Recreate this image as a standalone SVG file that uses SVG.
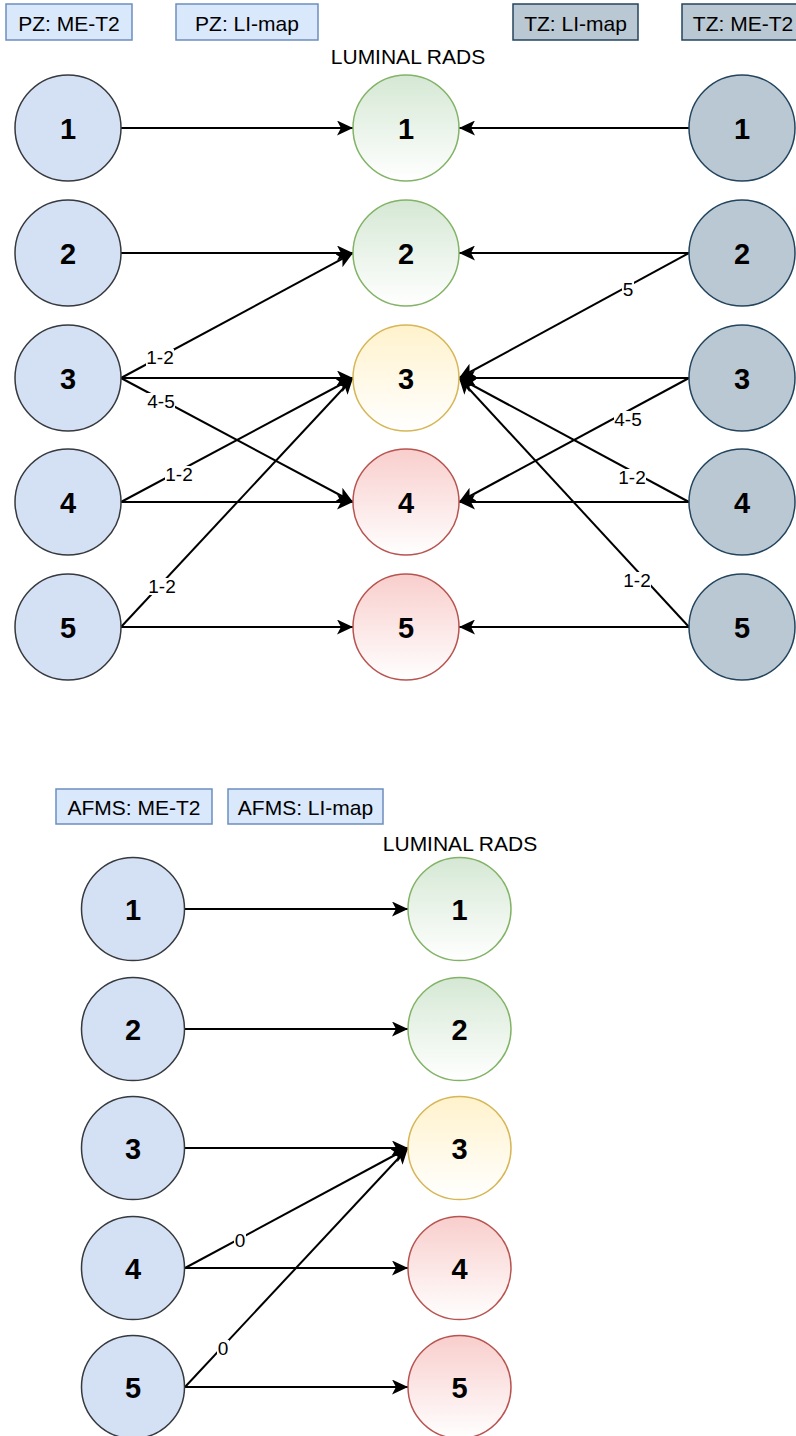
<svg xmlns="http://www.w3.org/2000/svg" width="796" height="1436" viewBox="0 0 796 1436">
  <style>
    .lbl { font-family: "Liberation Sans", Arial, sans-serif; font-size: 21px; fill: #000; text-anchor: middle; }
    .num { font-family: "Liberation Sans", Arial, sans-serif; font-size: 29px; font-weight: bold; fill: #000; text-anchor: middle; }
    .elbl { font-family: "Liberation Sans", Arial, sans-serif; font-size: 19px; fill: #000; text-anchor: middle; }
    .box-pz { fill: #dae8fc; stroke: #6c8ebf; stroke-width: 1.5; }
    .box-tz { fill: #bac8d3; stroke: #23445d; stroke-width: 1.5; }
    .c-src { fill: #d4e1f5; stroke: #36393d; stroke-width: 1.5; }
    .c-tz { fill: #bac8d3; stroke: #23445d; stroke-width: 1.5; }
    .c-g { fill: url(#gGreen); stroke: #82b366; stroke-width: 1.5; }
    .c-y { fill: url(#gYellow); stroke: #d6b656; stroke-width: 1.5; }
    .c-r { fill: url(#gRed); stroke: #b85450; stroke-width: 1.5; }
    .edge { stroke: #000; stroke-width: 2; fill: none; marker-end: url(#arrow); }
    .lbg { fill: #fff; }
  </style>
  <defs>
    <linearGradient id="gGreen" x1="0" y1="0" x2="0" y2="1">
      <stop offset="0" stop-color="#d5e8d4"/>
      <stop offset="1" stop-color="#ffffff"/>
    </linearGradient>
    <linearGradient id="gYellow" x1="0" y1="0" x2="0" y2="1">
      <stop offset="0" stop-color="#fff2cc"/>
      <stop offset="1" stop-color="#ffffff"/>
    </linearGradient>
    <linearGradient id="gRed" x1="0" y1="0" x2="0" y2="1">
      <stop offset="0" stop-color="#f8cecc"/>
      <stop offset="1" stop-color="#ffffff"/>
    </linearGradient>
    <marker id="arrow" markerUnits="userSpaceOnUse" markerWidth="16" markerHeight="15" refX="16" refY="7.5" orient="auto">
      <path d="M0,0 L16,7.5 L0,15 L4,7.5 Z" fill="#000"/>
    </marker>
  </defs>

  <rect width="796" height="1436" fill="#ffffff"/>

  <!-- ===== Upper panel: PZ / TZ ===== -->
  <g id="hdr-pz-met2"><rect class="box-pz" x="6" y="4" width="126" height="36"/><text class="lbl" x="69" y="31">PZ: ME-T2</text></g>
  <g id="hdr-pz-limap"><rect class="box-pz" x="176" y="4" width="142" height="36"/><text class="lbl" x="247" y="31">PZ: LI-map</text></g>
  <g id="hdr-tz-limap"><rect class="box-tz" x="513" y="4" width="125" height="36"/><text class="lbl" x="575.5" y="31">TZ: LI-map</text></g>
  <g id="hdr-tz-met2"><rect class="box-tz" x="682" y="4" width="126" height="36"/><text class="lbl" x="743" y="31">TZ: ME-T2</text></g>
  <g id="hdr-luminal-top"><text class="lbl" x="408" y="64">LUMINAL RADS</text></g>

  <!-- connectors, upper panel -->
  <g id="edges-top">
    <line class="edge" x1="121" y1="128" x2="353" y2="128"/>
    <line class="edge" x1="121" y1="253" x2="353" y2="253"/>
    <line class="edge" x1="121" y1="378" x2="353" y2="253"/>
    <line class="edge" x1="121" y1="378" x2="353" y2="378"/>
    <line class="edge" x1="121" y1="378" x2="353" y2="502"/>
    <line class="edge" x1="121" y1="502" x2="353" y2="378"/>
    <line class="edge" x1="121" y1="502" x2="353" y2="502"/>
    <line class="edge" x1="121" y1="627" x2="353" y2="378"/>
    <line class="edge" x1="121" y1="627" x2="353" y2="627"/>

    <line class="edge" x1="689" y1="128" x2="459" y2="128"/>
    <line class="edge" x1="689" y1="253" x2="459" y2="253"/>
    <line class="edge" x1="689" y1="253" x2="459" y2="378"/>
    <line class="edge" x1="689" y1="378" x2="459" y2="378"/>
    <line class="edge" x1="689" y1="378" x2="459" y2="502"/>
    <line class="edge" x1="689" y1="502" x2="459" y2="378"/>
    <line class="edge" x1="689" y1="502" x2="459" y2="502"/>
    <line class="edge" x1="689" y1="627" x2="459" y2="378"/>
    <line class="edge" x1="689" y1="627" x2="459" y2="627"/>

    <!-- edge labels -->
    <rect class="lbg" x="146" y="349" width="28" height="17"/><text class="elbl" x="160" y="364">1-2</text>
    <rect class="lbg" x="147" y="393" width="28" height="17"/><text class="elbl" x="161" y="408">4-5</text>
    <rect class="lbg" x="165" y="466" width="28" height="17"/><text class="elbl" x="179" y="481">1-2</text>
    <rect class="lbg" x="148" y="578" width="28" height="17"/><text class="elbl" x="162" y="593">1-2</text>
    <rect class="lbg" x="622" y="281" width="12" height="17"/><text class="elbl" x="628" y="296">5</text>
    <rect class="lbg" x="614" y="411" width="28" height="17"/><text class="elbl" x="628" y="426">4-5</text>
    <rect class="lbg" x="618" y="469" width="28" height="17"/><text class="elbl" x="632" y="484">1-2</text>
    <rect class="lbg" x="623" y="572" width="28" height="17"/><text class="elbl" x="637" y="587">1-2</text>
  </g>

  <!-- PZ ME-T2 column -->
  <g id="pz-1"><circle class="c-src" cx="68" cy="128" r="53"/><text class="num" x="68" y="139">1</text></g>
  <g id="pz-2"><circle class="c-src" cx="68" cy="253" r="53"/><text class="num" x="68" y="264">2</text></g>
  <g id="pz-3"><circle class="c-src" cx="68" cy="378" r="53"/><text class="num" x="68" y="389">3</text></g>
  <g id="pz-4"><circle class="c-src" cx="68" cy="502" r="53"/><text class="num" x="68" y="513">4</text></g>
  <g id="pz-5"><circle class="c-src" cx="68" cy="627" r="53"/><text class="num" x="68" y="638">5</text></g>

  <!-- Luminal RADS column (upper) -->
  <g id="lr-1"><circle class="c-g" cx="406" cy="128" r="53"/><text class="num" x="406" y="139">1</text></g>
  <g id="lr-2"><circle class="c-g" cx="406" cy="253" r="53"/><text class="num" x="406" y="264">2</text></g>
  <g id="lr-3"><circle class="c-y" cx="406" cy="378" r="53"/><text class="num" x="406" y="389">3</text></g>
  <g id="lr-4"><circle class="c-r" cx="406" cy="502" r="53"/><text class="num" x="406" y="513">4</text></g>
  <g id="lr-5"><circle class="c-r" cx="406" cy="627" r="53"/><text class="num" x="406" y="638">5</text></g>

  <!-- TZ ME-T2 column -->
  <g id="tz-1"><circle class="c-tz" cx="742" cy="128" r="53"/><text class="num" x="742" y="139">1</text></g>
  <g id="tz-2"><circle class="c-tz" cx="742" cy="253" r="53"/><text class="num" x="742" y="264">2</text></g>
  <g id="tz-3"><circle class="c-tz" cx="742" cy="378" r="53"/><text class="num" x="742" y="389">3</text></g>
  <g id="tz-4"><circle class="c-tz" cx="742" cy="502" r="53"/><text class="num" x="742" y="513">4</text></g>
  <g id="tz-5"><circle class="c-tz" cx="742" cy="627" r="53"/><text class="num" x="742" y="638">5</text></g>

  <!-- ===== Lower panel: AFMS ===== -->
  <g id="hdr-afms-met2"><rect class="box-pz" x="56" y="789" width="156" height="35"/><text class="lbl" x="134" y="815">AFMS: ME-T2</text></g>
  <g id="hdr-afms-limap"><rect class="box-pz" x="228" y="789" width="155" height="35"/><text class="lbl" x="305.5" y="815">AFMS: LI-map</text></g>
  <g id="hdr-luminal-bottom"><text class="lbl" x="460" y="851">LUMINAL RADS</text></g>

  <g id="edges-bottom">
    <line class="edge" x1="185" y1="909" x2="408" y2="909"/>
    <line class="edge" x1="185" y1="1029" x2="408" y2="1029"/>
    <line class="edge" x1="185" y1="1148" x2="408" y2="1148"/>
    <line class="edge" x1="185" y1="1268" x2="408" y2="1148"/>
    <line class="edge" x1="185" y1="1268" x2="408" y2="1268"/>
    <line class="edge" x1="185" y1="1387" x2="408" y2="1148"/>
    <line class="edge" x1="185" y1="1387" x2="408" y2="1387"/>
    <rect class="lbg" x="234" y="1232" width="12" height="17"/><text class="elbl" x="240" y="1247">0</text>
    <rect class="lbg" x="217" y="1340" width="12" height="17"/><text class="elbl" x="223" y="1355">0</text>
  </g>

  <g id="afms-1"><circle class="c-src" cx="133" cy="909" r="51.5"/><text class="num" x="133" y="920">1</text></g>
  <g id="afms-2"><circle class="c-src" cx="133" cy="1029" r="51.5"/><text class="num" x="133" y="1040">2</text></g>
  <g id="afms-3"><circle class="c-src" cx="133" cy="1148" r="51.5"/><text class="num" x="133" y="1159">3</text></g>
  <g id="afms-4"><circle class="c-src" cx="133" cy="1268" r="51.5"/><text class="num" x="133" y="1279">4</text></g>
  <g id="afms-5"><circle class="c-src" cx="133" cy="1387" r="51.5"/><text class="num" x="133" y="1398">5</text></g>

  <g id="lrb-1"><circle class="c-g" cx="459.5" cy="909" r="51.5"/><text class="num" x="459.5" y="920">1</text></g>
  <g id="lrb-2"><circle class="c-g" cx="459.5" cy="1029" r="51.5"/><text class="num" x="459.5" y="1040">2</text></g>
  <g id="lrb-3"><circle class="c-y" cx="459.5" cy="1148" r="51.5"/><text class="num" x="459.5" y="1159">3</text></g>
  <g id="lrb-4"><circle class="c-r" cx="459.5" cy="1268" r="51.5"/><text class="num" x="459.5" y="1279">4</text></g>
  <g id="lrb-5"><circle class="c-r" cx="459.5" cy="1387" r="51.5"/><text class="num" x="459.5" y="1398">5</text></g>
</svg>
